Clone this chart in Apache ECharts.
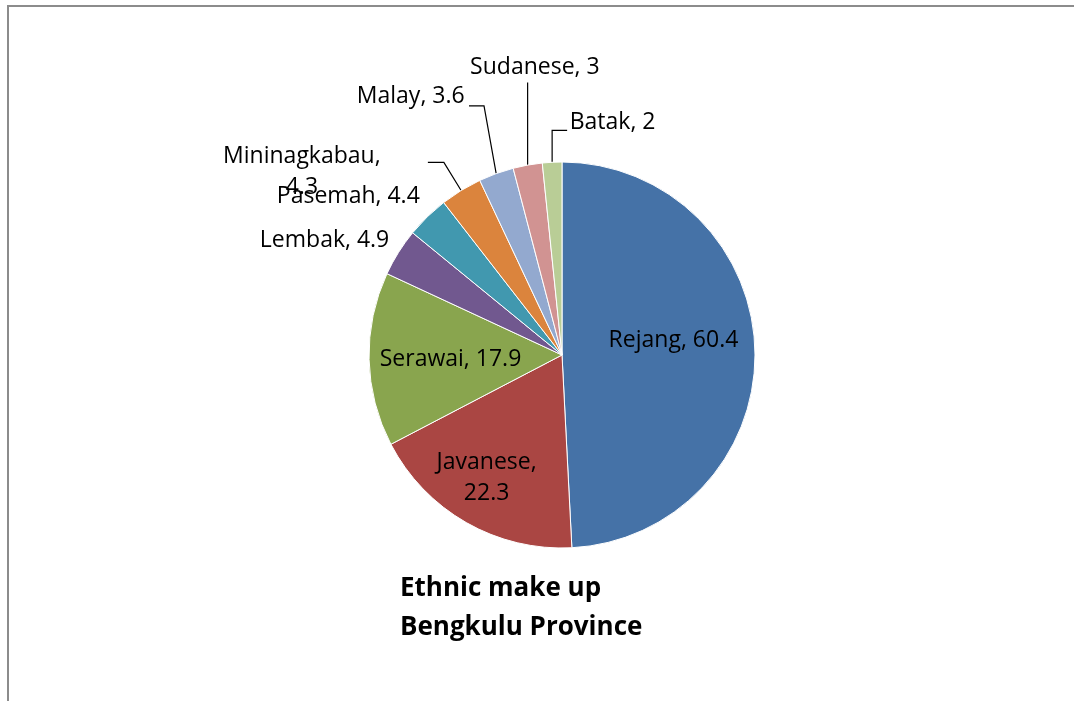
<!DOCTYPE html>
<html>
<head>
<meta charset="utf-8">
<script src="https://cdn.jsdelivr.net/npm/echarts@6/dist/echarts.min.js"></script>
<style>
  html, body { margin: 0; padding: 0; background: #fff; }
  #chart { width: 1074px; height: 701px; }
</style>
</head>
<body>
<div id="chart"></div>
<script>
// ---- data ----
const categories = ['Rejang', 'Javanese', 'Serawai', 'Lembak', 'Pasemah', 'Mininagkabau', 'Malay', 'Sudanese', 'Batak'];
const values = [60.4, 22.3, 17.9, 4.9, 4.4, 4.3, 3.6, 3, 2];
const colors = ['#4572A7', '#AA4643', '#89A54E', '#71588F', '#4198AF', '#DB843D', '#93A9CF', '#D19392', '#B9CD96'];
const titleLines = ['Ethnic make up', 'Bengkulu Province'];

// ---- label styling per slice (layout only) ----
const FONT = '"Open Sans", Lato, sans-serif';
const FS = 23;
const LH = 31;
const labelStyles = [
  { label: { position: 'inside', offset: [12, -12] } },
  { label: { position: 'inside', offset: [-26, 37], formatter: p => p.name + ',\n' + p.value, align: 'center' } },
  { label: { position: 'inside', offset: [-12, 2] } },
  { label: { position: 'outside', offset: [0, -9] }, labelLine: { show: false, length: 5, length2: 0 } },
  { label: { position: 'outside', offset: [1, -17] }, labelLine: { show: false, length: 5, length2: 0 } },
  { label: { position: 'outside', offset: [-40, 10],
      formatter: p => '{m|' + p.name + ',}\n{m|' + p.value + '}',
      rich: { m: { width: 162, align: 'center', fontSize: FS, fontFamily: FONT, color: '#000', lineHeight: LH } } },
    labelLine: { length: 33, length2: 16 } },
  { label: { position: 'outside', offset: [1, -9] }, labelLine: { length: 72, length2: 3 } },
  { label: { position: 'outside', offset: [92, -15] }, labelLine: { length: 84, length2: 0 } },
  { label: { position: 'outside', offset: [110, -8] }, labelLine: { length: 32, length2: 0 } }
];

const seriesData = categories.map((name, i) => Object.assign({
  name: name,
  value: values[i],
  itemStyle: { color: colors[i] }
}, labelStyles[i]));

const chart = echarts.init(document.getElementById('chart'), null, { renderer: 'canvas' });
chart.setOption({
  backgroundColor: '#ffffff',
  animation: false,
  title: {
    text: titleLines.join('\n'),
    left: 395,
    top: 564,
    textStyle: { fontFamily: FONT, fontWeight: 'bold', fontSize: 26, color: '#000', lineHeight: 39 }
  },
  graphic: [
    { type: 'line', shape: { x1: 7, y1: 6, x2: 1074, y2: 6 }, style: { stroke: '#8c8c8c', lineWidth: 2 } },
    { type: 'line', shape: { x1: 8, y1: 5, x2: 8, y2: 701 }, style: { stroke: '#8c8c8c', lineWidth: 2 } }
  ],
  series: [{
    type: 'pie',
    center: [562, 355],
    radius: 193,
    startAngle: 90,
    clockwise: true,
    avoidLabelOverlap: false,
    label: {
      show: true,
      formatter: p => p.name + ', ' + p.value,
      fontFamily: FONT,
      fontSize: FS,
      color: '#000',
      lineHeight: LH
    },
    labelLine: {
      show: true,
      lineStyle: { color: '#000', width: 1.2 }
    },
    labelLayout: function (params) {
      const res = { hideOverlap: false };
      const pts = params.labelLinePoints;
      if (pts && pts.length >= 2) {
        const x0 = pts[0][0];
        const y0 = pts[0][1];
        const yTop = pts[1][1];
        if (params.dataIndex === 6) {
          const xb = x0 - (y0 - yTop) * 0.18;
          res.labelLinePoints = [pts[0], [xb, yTop], [xb - 15, yTop]];
        } else if (params.dataIndex === 7) {
          res.labelLinePoints = [pts[0], [x0, yTop], [x0, yTop]];
        } else if (params.dataIndex === 8) {
          res.labelLinePoints = [pts[0], [x0, yTop], [x0 + 15, yTop]];
        }
      }
      return res;
    },
    itemStyle: { borderColor: '#fff', borderWidth: 1 },
    emphasis: { disabled: true },
    data: seriesData
  }]
});
</script>
</body>
</html>
